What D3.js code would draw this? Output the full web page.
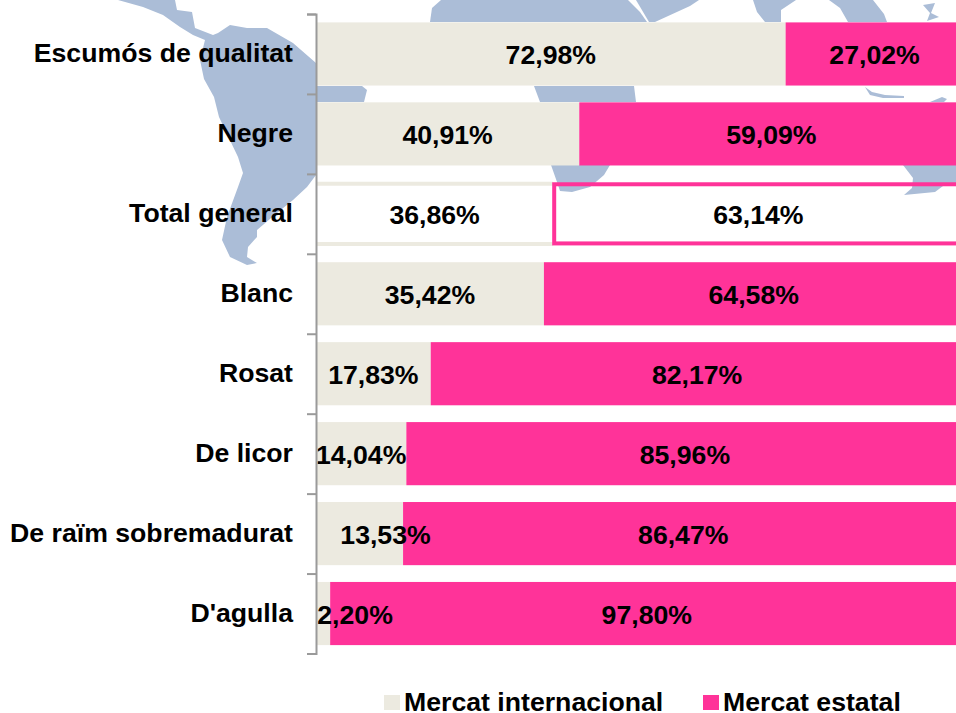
<!DOCTYPE html>
<html><head><meta charset="utf-8">
<script src="https://cdn.jsdelivr.net/npm/d3@7"></script>
<style>html,body{margin:0;padding:0;background:#fff}svg{display:block}text{font-family:"Liberation Sans",Arial,sans-serif;font-weight:bold;fill:#000}</style>
</head><body><svg id="c" width="956" height="713"></svg>
<script>
const categories=["Escumós de qualitat","Negre","Total general","Blanc","Rosat","De licor","De raïm sobremadurat","D'agulla"];
const internacional=[72.98,40.91,36.86,35.42,17.83,14.04,13.53,2.20];
const estatal=[27.02,59.09,63.14,64.58,82.17,85.96,86.47,97.80];
const seriesNames=["Mercat internacional","Mercat estatal"];
const colors=["#ECEAE0","#FF3399"];
const mapColor="#ABBDD7";
const labelNudge={"2.2":32,"13.53":26};
const mapPaths=[
// Central and South America
"M118,0L143,7L163,15L180,27L193,35L205,40L200,60L204,79L214,97L219,117L227,134L238,157L243,173L238,187L227,217L222,240L230,257L247,265L257,263L247,257L248,247L257,237L257,230L277,213L293,200L307,187L316,175L316,63L293,43L267,28L247,28L230,25L218,33L213,35L195,28L192,12L177,10L175,0Z",
"M316,86L362,86L367,90L364,102L316,102Z",
// Africa and Europe
"M441,0L628,0L640,12L647,22L430,22L432,8Z",
"M636,0L699,0L690,6L655,22L649,22Z",
"M534,86L634,86L636,102L540,102Z",
"M551,165L610,165L604,175L590,187L572,192L560,191L557,182Z",
// Asia and Oceania
"M753,0L796,0L781,10L781,22L765,22L757,12Z",
"M829,0L873,0L884,14L887,22L848,22L840,8Z",
"M923,5L935,3L931,13L939,17L927,21L930,13Z",
"M865,87L872,92L885,95L904,96L904,98L883,98L870,95Z",
"M930,102L942,97L947,99L944,102Z",
"M903,165L956,165L956,184L943,186L935,192L904,195L912,188L913,178Z"
];
const svg=d3.select("#c");
const x=d3.scaleLinear().domain([0,100]).range([316,959.5]);
const band=d3.scaleBand().domain(categories).range([14,653.5]).paddingInner(0.21).paddingOuter(0.105);
svg.append("g").selectAll("path").data(mapPaths).join("path").attr("d",d=>d).attr("fill",mapColor);
const rows=svg.append("g").selectAll("g").data(categories).join("g");
const totalIdx=categories.indexOf("Total general");
const fmt=v=>v.toFixed(2).replace(".",",")+"%";
rows.each(function(c,i){
  const g=d3.select(this),y=band(c),h=band.bandwidth();
  const total=i===totalIdx;
  const a=x(internacional[i]);
  g.append("rect").attr("x",x(0)).attr("y",total?y+2:y).attr("width",a-x(0)).attr("height",total?h-4:h)
    .attr("fill",total?"none":colors[0]);
  if(total){
    g.append("line").attr("x1",x(0)).attr("x2",a).attr("y1",y+1.5).attr("y2",y+1.5).attr("stroke",colors[0]).attr("stroke-width",4);
    g.append("line").attr("x1",x(0)).attr("x2",a).attr("y1",y+h-1.5).attr("y2",y+h-1.5).attr("stroke",colors[0]).attr("stroke-width",4);
  }
  g.append("rect").attr("x",total?a+1:a).attr("y",total?y+2:y).attr("width",x(100)-a).attr("height",total?h-4:h)
    .attr("fill",total?"none":colors[1]).attr("stroke",total?colors[1]:"none").attr("stroke-width",total?4:0);
  g.append("text").attr("x",(x(0)+a)/2+(labelNudge[internacional[i]]||0)).attr("y",y+h/2+1).attr("dy","0.35em").attr("text-anchor","middle").attr("font-size",26.67).text(fmt(internacional[i]));
  g.append("text").attr("x",(a+x(100))/2+2).attr("y",y+h/2+1).attr("dy","0.35em").attr("text-anchor","middle").attr("font-size",26.67).text(fmt(estatal[i]));
});
const yAxisScale=d3.scaleLinear().domain([0,categories.length]).range([14,653.5]);
const axis=svg.append("g").attr("transform","translate(316,0)").call(d3.axisLeft(yAxisScale).ticks(categories.length).tickSize(9).tickFormat(""));
axis.selectAll("path,line").attr("stroke","#9A9A9A").attr("stroke-width",2);
svg.append("g").selectAll("text").data(categories).join("text").attr("x",293).attr("y",c=>band(c)+band.bandwidth()/2-1).attr("dy","0.35em").attr("text-anchor","end").attr("font-size",26.67).text(c=>c);
const lg=svg.append("g");
const lx=[384,703],tx=[404,723];
seriesNames.forEach((n,i)=>{
  lg.append("rect").attr("x",lx[i]).attr("y",695).attr("width",16).attr("height",15).attr("fill",colors[i]);
  lg.append("text").attr("x",tx[i]).attr("y",711).attr("font-size",26.67).text(n);
});
</script></body></html>
